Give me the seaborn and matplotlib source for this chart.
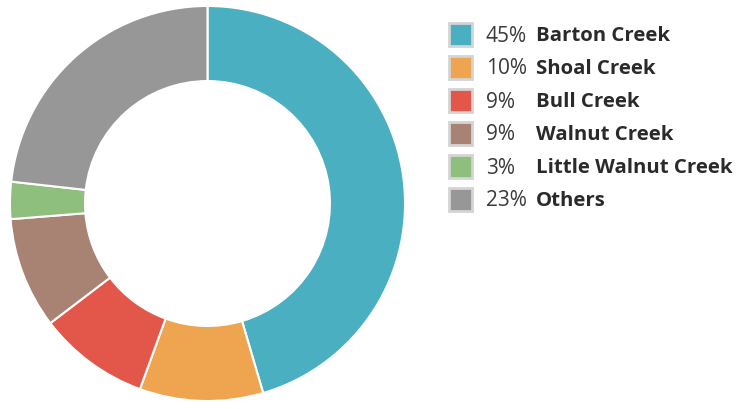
import matplotlib.pyplot as plt
import seaborn as sns
from matplotlib.patches import Rectangle

# Data
creeks = ['Barton Creek', 'Shoal Creek', 'Bull Creek', 'Walnut Creek',
          'Little Walnut Creek', 'Others']
shares = [45, 10, 9, 9, 3, 23]
colors = ['#4AB0C1', '#EFA54F', '#E2574A', '#A88373', '#8EBF7D', '#979797']

sns.set_theme(style='white')
plt.rcParams['font.family'] = ['Open Sans', 'DejaVu Sans']
palette = sns.color_palette(colors)

fig = plt.figure(figsize=(7.38, 4.09), dpi=100)
ax = fig.add_axes([8 / 738, 6 / 409, 399 / 738, 399 / 409])
ax.pie(shares, colors=palette, startangle=90, counterclock=False,
       wedgeprops=dict(width=0.38, edgecolor='white', linewidth=1.5))
ax.set_xlim(-1.01, 1.01)
ax.set_ylim(-1.01, 1.01)
ax.set_aspect('equal')

# Legend: coloured square, percentage, bold name
y0, step = 35, 33
for i, (name, pct, col) in enumerate(zip(creeks, shares, palette)):
    y = y0 + i * step
    fig.patches.append(Rectangle((449 / 738, 1 - (y + 11) / 409), 23 / 738, 23 / 409,
                                 transform=fig.transFigure, facecolor=col,
                                 edgecolor='#d4d4d4', linewidth=2))
    fig.text(486 / 738, 1 - (y + 1) / 409, f'{pct}%', fontsize=15,
             color='#3a3a3a', va='center', ha='left')
    fig.text(536 / 738, 1 - (y + 1) / 409, name, fontsize=14.7, fontweight='bold',
             color='#2a2a2a', va='center', ha='left')

plt.savefig('out.png', dpi=100)
